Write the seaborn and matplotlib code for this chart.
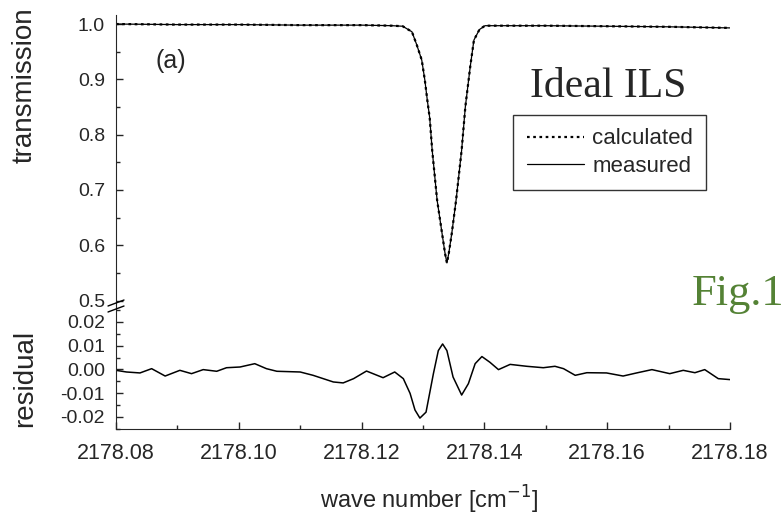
import numpy as np
import pandas as pd
import seaborn as sns
import matplotlib.pyplot as plt
from matplotlib.lines import Line2D
from matplotlib.ticker import MultipleLocator

# transmission spectrum
trans_wn = [2178.0800, 2178.0900, 2178.1000, 2178.1100, 2178.1200, 2178.1250,
            2178.1267, 2178.1282, 2178.1290, 2178.1298, 2178.1303, 2178.1307,
            2178.1311, 2178.1315, 2178.1323, 2178.1331, 2178.1336, 2178.1339,
            2178.1342, 2178.1347, 2178.1354, 2178.1363, 2178.1369, 2178.1377,
            2178.1383, 2178.1392, 2178.1401, 2178.1500, 2178.1600, 2178.1700,
            2178.1800]
trans_meas = [1.000, 0.999, 0.999, 0.998, 0.998, 0.997,
              0.996, 0.986, 0.962, 0.935, 0.899, 0.863,
              0.830, 0.772, 0.682, 0.622, 0.585, 0.568,
              0.585, 0.622, 0.682, 0.772, 0.850, 0.923,
              0.971, 0.990, 0.997, 0.997, 0.996, 0.995,
              0.993]
trans_calc = trans_meas

# residual (measured - calculated)
res_wn = [2178.0800, 2178.0817, 2178.0839, 2178.0858, 2178.0880, 2178.0904,
          2178.0923, 2178.0942, 2178.0964, 2178.0980, 2178.1002, 2178.1026,
          2178.1045, 2178.1062, 2178.1100, 2178.1121, 2178.1154, 2178.1170,
          2178.1187, 2178.1208, 2178.1235, 2178.1254, 2178.1268, 2178.1279,
          2178.1287, 2178.1295, 2178.1305, 2178.1317, 2178.1325, 2178.1332,
          2178.1339, 2178.1349, 2178.1363, 2178.1374, 2178.1385, 2178.1396,
          2178.1409, 2178.1423, 2178.1442, 2178.1469, 2178.1496, 2178.1515,
          2178.1529, 2178.1548, 2178.1567, 2178.1599, 2178.1626, 2178.1648,
          2178.1673, 2178.1702, 2178.1724, 2178.1743, 2178.1759, 2178.1781,
          2178.1800]
res_val = [-0.0004, -0.0011, -0.0015, 0.0003, -0.0028, -0.0004,
           -0.0018, -0.0001, -0.0008, 0.0007, 0.0010, 0.0024,
           0.0003, -0.0008, -0.0011, -0.0025, -0.0053, -0.0057,
           -0.0039, -0.0007, -0.0035, -0.0011, -0.0039, -0.0101,
           -0.0171, -0.0205, -0.0180, -0.0018, 0.0079, 0.0107,
           0.0079, -0.0032, -0.0108, -0.0060, 0.0024, 0.0054,
           0.0030, -0.0001, 0.0021, 0.0013, 0.0007, 0.0013,
           0.0003, -0.0025, -0.0014, -0.0015, -0.0028, -0.0015,
           -0.0001, -0.0018, -0.0004, -0.0014, -0.0001, -0.0039,
           -0.0043]

x_ticks = [2178.08, 2178.10, 2178.12, 2178.14, 2178.16, 2178.18]

sns.set_style("ticks")
plt.rcParams['font.family'] = ['Liberation Sans', 'DejaVu Sans']
plt.rcParams['axes.unicode_minus'] = False

fig = plt.figure(figsize=(7.84, 5.18), dpi=100)
ax1 = fig.add_axes([0.148, 0.4112, 0.783, 0.5598])
ax2 = fig.add_axes([0.148, 0.1718, 0.783, 0.2394])

df_t = pd.DataFrame({'wn': trans_wn, 'measured': trans_meas, 'calculated': trans_calc})
df_r = pd.DataFrame({'wn': res_wn, 'res': res_val})

sns.lineplot(data=df_t, x='wn', y='measured', ax=ax1, color='black', lw=0.9,
             label='measured')
sns.lineplot(data=df_t, x='wn', y='calculated', ax=ax1, color='black', lw=1.6,
             linestyle=(0, (1.2, 1.6)), label='calculated')
sns.lineplot(data=df_r, x='wn', y='res', ax=ax2, color='black', lw=1.1)

for ax in (ax1, ax2):
    ax.set_xlim(2178.08, 2178.18)
    ax.spines['top'].set_visible(False)
    ax.spines['right'].set_visible(False)
    ax.tick_params(which='both', direction='in', width=1)
    ax.tick_params(which='major', length=5)
    ax.tick_params(which='minor', length=3)
    ax.tick_params(axis='y', pad=8)
    ax.tick_params(axis='x', pad=10)
    ax.xaxis.set_minor_locator(MultipleLocator(0.01))
    ax.set_xticks(x_ticks)

ax1.set_ylim(0.4919, 1.0163)
ax1.set_yticks([0.5, 0.6, 0.7, 0.8, 0.9, 1.0])
ax1.set_yticklabels(['0.5', '0.6', '0.7', '0.8', '0.9', '1.0'], fontsize=14)
ax1.yaxis.set_minor_locator(MultipleLocator(0.05))
ax1.spines['bottom'].set_visible(False)
ax1.tick_params(axis='x', which='both', bottom=False, labelbottom=False)
ax1.set_xlabel('')
ax1.set_ylabel('transmission', fontsize=20)
ax1.yaxis.set_label_coords(-0.127, 0.759)

ax2.set_ylim(-0.0251, 0.0271)
ax2.set_yticks([-0.02, -0.01, 0.0, 0.01, 0.02])
ax2.set_yticklabels(['-0.02', '-0.01', '0.00', '0.01', '0.02'], fontsize=14)
ax2.yaxis.set_minor_locator(MultipleLocator(0.005))
ax2.set_xticklabels(['%.2f' % t for t in x_ticks], fontsize=15.5)
ax2.set_ylabel('residual', fontsize=20)
ax2.yaxis.set_label_coords(-0.127, 0.41)
ax2.set_xlabel('wave number [cm$^{-1}$]', fontsize=17)
ax2.xaxis.set_label_coords(0.51, -0.44)

# legend: calculated first, then measured
h, l = ax1.get_legend_handles_labels()
leg = ax1.legend([h[1], h[0]], [l[1], l[0]], loc='upper left',
                 bbox_to_anchor=(0.647, 0.655), borderaxespad=0, fontsize=16,
                 frameon=True, fancybox=False, edgecolor='black',
                 handlelength=2.6, handletextpad=0.35, borderpad=0.6,
                 labelspacing=0.3)
leg.get_frame().set_linewidth(1.0)

# axis break marks on the left spine
for dy in (0, 6):
    fig.add_artist(Line2D([108 / 784, 124 / 784],
                          [1 - (306 + dy) / 518, 1 - (300 + dy) / 518],
                          color='black', lw=1))

ax1.text(0.0896, 0.841, '(a)', transform=ax1.transAxes, fontsize=18,
         ha='center', va='center')
fig.text(530 / 784, 1 - 97 / 518, 'Ideal ILS', fontsize=30,
         family='Liberation Serif', va='baseline', ha='left')
fig.text(692 / 784, 1 - 305 / 518, 'Fig.1', fontsize=32, color='#548235',
         family='Liberation Serif', va='baseline', ha='left')

fig.savefig('out.png', dpi=100)
